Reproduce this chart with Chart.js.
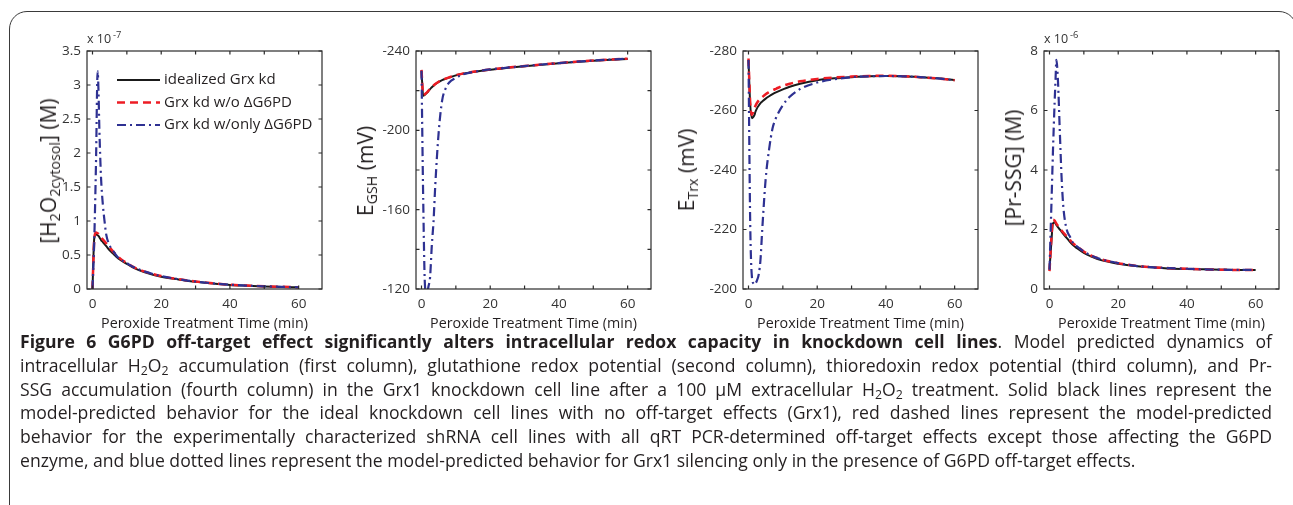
<!DOCTYPE html>
<html>
<head>
<meta charset="utf-8">
<script src="https://cdn.jsdelivr.net/npm/chart.js@4.4.1/dist/chart.umd.min.js"></script>
<style>
  body { margin: 0; width: 1293px; height: 505px; overflow: hidden; background: #fff; position: relative; font-family: 'Open Sans', sans-serif; color: #231f20; }
  .frame { position: absolute; left: 9px; top: 11px; width: 1288px; height: 600px; border: 1.5px solid #3a3a3a; border-radius: 18px; box-sizing: border-box; }
  canvas { position: absolute; }
  .ytitle { position: absolute; transform: translate(-50%, -50%) rotate(-90deg); white-space: nowrap; font-size: 21px; }
  .ytitle sub { font-size: 0.68em; vertical-align: -0.3em; line-height: 0; }
  .mult { position: absolute; font-size: 12.5px; color: #333; }
  .mult sup { font-size: 0.75em; vertical-align: 0.55em; line-height: 0; margin-left: 2px; }
  .caption { position: absolute; left: 20px; top: 330px; width: 1252px; font-size: 17.6px; line-height: 23.8px; }
  .caption div { text-align: justify; text-align-last: justify; }
  .caption div.last { text-align-last: left; }
  .caption sub { font-size: 0.7em; vertical-align: -0.25em; line-height: 0; }
</style>
</head>
<body>
<div class="frame"></div>

<canvas id="c1"></canvas>
<canvas id="c2"></canvas>
<canvas id="c3"></canvas>
<canvas id="c4"></canvas>

<div class="mult" style="left:87px;top:30px">x 10<sup>-7</sup></div>
<div class="mult" style="left:1044px;top:30px">x 10<sup>-6</sup></div>

<div class="ytitle" style="left:48px;top:171px">[H<sub>2</sub>O<sub>2cytosol</sub>] (M)</div>
<div class="ytitle" style="left:365px;top:171px">E<sub>GSH</sub> (mV)</div>
<div class="ytitle" style="left:686px;top:170px">E<sub>Trx</sub> (mV)</div>
<div class="ytitle" style="left:1013px;top:168px">[Pr-SSG] (M)</div>

<div class="caption">
  <div><b>Figure 6 G6PD off-target effect significantly alters intracellular redox capacity in knockdown cell lines</b>. Model predicted dynamics of</div>
  <div>intracellular H<sub>2</sub>O<sub>2</sub> accumulation (first column), glutathione redox potential (second column), thioredoxin redox potential (third column), and Pr-</div>
  <div>SSG accumulation (fourth column) in the Grx1 knockdown cell line after a 100 µM extracellular H<sub>2</sub>O<sub>2</sub> treatment. Solid black lines represent the</div>
  <div>model-predicted behavior for the ideal knockdown cell lines with no off-target effects (Grx1), red dashed lines represent the model-predicted</div>
  <div>behavior for the experimentally characterized shRNA cell lines with all qRT PCR-determined off-target effects except those affecting the G6PD</div>
  <div class="last">enzyme, and blue dotted lines represent the model-predicted behavior for Grx1 silencing only in the presence of G6PD off-target effects.</div>
</div>

<script>
// time points (min)
const time = [0, 0.5, 1, 1.5, 1.75, 2, 2.5, 3, 3.5, 4, 5, 6, 7, 8, 10, 12, 15, 20, 25, 30, 35, 40, 45, 50, 55, 60];
const seriesLabels = ['idealized Grx kd', 'Grx kd w/o \u0394G6PD', 'Grx kd w/only \u0394G6PD'];

// [H2O2 cytosol], x 1e-7 M
const h2o2Ideal = [0, 0.74, 0.81, 0.79, 0.78, 0.76, 0.72, 0.69, 0.66, 0.63, 0.57, 0.52, 0.47, 0.43, 0.37, 0.31, 0.25, 0.18, 0.14, 0.105, 0.08, 0.06, 0.048, 0.038, 0.03, 0.025];
const h2o2NoG6pd = [0, 0.72, 0.83, 0.82, 0.81, 0.79, 0.76, 0.73, 0.7, 0.67, 0.61, 0.55, 0.5, 0.45, 0.38, 0.32, 0.26, 0.19, 0.145, 0.11, 0.083, 0.063, 0.05, 0.04, 0.032, 0.026];
const h2o2OnlyG6pd = [0, 0.7, 1.8, 3.2, 2.9, 2.35, 1.62, 1.25, 1.0, 0.8, 0.64, 0.56, 0.49, 0.44, 0.38, 0.32, 0.26, 0.19, 0.145, 0.11, 0.083, 0.063, 0.05, 0.04, 0.032, 0.026];

// E_GSH (mV)
const egshIdeal = [-230, -217.5, -218, -218.8, -219.2, -219.8, -220.8, -221.7, -222.5, -223.2, -224.4, -225.3, -226, -226.6, -227.7, -228.5, -229.4, -230.6, -231.5, -232.3, -233.1, -233.8, -234.5, -235.1, -235.6, -236];
const egshNoG6pd = [-230.5, -217.8, -218.2, -219, -219.4, -220, -221, -221.8, -222.6, -223.3, -224.5, -225.4, -226.1, -226.7, -227.8, -228.6, -229.5, -230.7, -231.6, -232.4, -233.2, -233.9, -234.6, -235.2, -235.7, -236.1];
const egshOnlyG6pd = [-230, -165, -122, -117, -118, -121, -126, -142, -154, -172, -199, -215, -221, -224, -226.5, -228.2, -229.4, -230.7, -231.6, -232.4, -233.2, -233.9, -234.6, -235.2, -235.7, -236.1];

// E_Trx (mV)
const etrxIdeal = [-277, -262, -257.4, -258, -258.5, -259.5, -260.8, -261.7, -262.5, -263, -264, -264.8, -265.5, -266.1, -267.1, -268, -269, -270.2, -270.8, -271.2, -271.5, -271.6, -271.5, -271.2, -270.8, -270.2];
const etrxNoG6pd = [-277.5, -262.5, -258.5, -260, -260.8, -261.5, -262.6, -263.4, -264, -264.5, -265.5, -266.2, -266.8, -267.3, -268.3, -269, -269.8, -270.6, -271.1, -271.4, -271.6, -271.7, -271.5, -271.2, -270.8, -270.2];
const etrxOnlyG6pd = [-277, -222, -204, -201.8, -201.5, -201.8, -203, -205, -210, -220, -237, -247, -254, -257.5, -261.8, -264.6, -267.2, -269.4, -270.5, -271.2, -271.5, -271.6, -271.5, -271.2, -270.8, -270.2];

// [Pr-SSG], x 1e-6 M
const prssgIdeal = [0.65, 1.5, 2.2, 2.24, 2.2, 2.15, 2.07, 2.0, 1.93, 1.85, 1.72, 1.58, 1.46, 1.37, 1.21, 1.1, 0.97, 0.85, 0.77, 0.73, 0.69, 0.67, 0.66, 0.65, 0.64, 0.64];
const prssgNoG6pd = [0.6, 1.6, 2.33, 2.3, 2.25, 2.2, 2.12, 2.05, 1.97, 1.9, 1.77, 1.64, 1.52, 1.43, 1.26, 1.13, 1.0, 0.87, 0.78, 0.73, 0.7, 0.68, 0.66, 0.65, 0.64, 0.64];
const prssgOnlyG6pd = [0.65, 2.6, 4.6, 6.3, 7.0, 7.7, 6.9, 5.3, 3.8, 2.8, 2.0, 1.75, 1.52, 1.43, 1.26, 1.13, 1.0, 0.87, 0.78, 0.73, 0.7, 0.68, 0.66, 0.65, 0.64, 0.64];

// ticks
const xTicks = [0, 10, 20, 30, 40, 50, 60];
const xTickLabels = [0, 20, 40, 60];
const h2o2Ticks = [0, 0.5, 1, 1.5, 2, 2.5, 3, 3.5];
const h2o2TickLabels = [0, 0.5, 1, 1.5, 2, 2.5, 3, 3.5];
const egshTicks = [-240, -220, -200, -180, -160, -140, -120];
const egshTickLabels = [-240, -200, -160, -120];
const etrxTicks = [-280, -260, -240, -220, -200];
const etrxTickLabels = [-280, -260, -240, -220, -200];
const prssgTicks = [0, 2, 4, 6, 8];
const prssgTickLabels = [0, 2, 4, 6, 8];

const lineStyles = [
  { borderColor: '#1a1a1a', borderWidth: 2, borderDash: [], order: 2 },
  { borderColor: '#ed1c24', borderWidth: 2.5, borderDash: [8, 5], order: 1 },
  { borderColor: '#2e3192', borderWidth: 2.2, borderDash: [9, 4, 2, 4], order: 0 }
];

// box round the axes with inward ticks, like the original
const frameTicks = {
  id: 'frameTicks',
  afterDatasetsDraw(chart) {
    const { ctx, chartArea: a, scales: { x, y } } = chart;
    const len = 3.5;
    ctx.save();
    ctx.strokeStyle = '#2b2b2b';
    ctx.lineWidth = 1.2;
    ctx.strokeRect(a.left, a.top, a.right - a.left, a.bottom - a.top);
    ctx.beginPath();
    x.ticks.forEach(t => {
      const p = x.getPixelForValue(t.value);
      ctx.moveTo(p, a.bottom); ctx.lineTo(p, a.bottom - len);
      ctx.moveTo(p, a.top); ctx.lineTo(p, a.top + len);
    });
    y.ticks.forEach(t => {
      const p = y.getPixelForValue(t.value);
      ctx.moveTo(a.left, p); ctx.lineTo(a.left + len, p);
      ctx.moveTo(a.right, p); ctx.lineTo(a.right - len, p);
    });
    ctx.stroke();
    ctx.restore();
  }
};

const lineLegend = {
  id: 'lineLegend',
  afterDatasetsDraw(chart, args, opts) {
    if (!opts.show) return;
    const { ctx, chartArea: a } = chart;
    ctx.save();
    ctx.font = '15px "Open Sans"';
    ctx.textBaseline = 'middle';
    ctx.fillStyle = '#231f20';
    chart.data.datasets.forEach((ds, i) => {
      const yy = a.top + 29 + i * 22.5;
      ctx.strokeStyle = ds.borderColor;
      ctx.lineWidth = ds.borderWidth;
      ctx.setLineDash(ds.borderDash);
      ctx.beginPath();
      ctx.moveTo(a.left + 30, yy);
      ctx.lineTo(a.left + 73, yy);
      ctx.stroke();
      ctx.setLineDash([]);
      ctx.fillText(ds.label, a.left + 77, yy);
    });
    ctx.restore();
  }
};

const PAD_LEFT = 60, PAD_TOP = 25, PAD_RIGHT = 12, X_H = 48;
const BOX_W = 235, BOX_H = 238;

function makePanel(id, boxLeft, series, yMin, yMax, reverse, yTicks, yLabels, showLegend) {
  const canvas = document.getElementById(id);
  const w = PAD_LEFT + BOX_W + PAD_RIGHT;
  const h = PAD_TOP + BOX_H + X_H;
  canvas.width = w;
  canvas.height = h;
  canvas.style.left = (boxLeft - PAD_LEFT) + 'px';
  canvas.style.top = (51 - PAD_TOP) + 'px';
  canvas.style.width = w + 'px';
  canvas.style.height = h + 'px';

  new Chart(canvas, {
    type: 'scatter',
    data: {
      datasets: series.map((vals, i) => ({
        label: seriesLabels[i],
        data: time.map((t, k) => ({ x: t, y: vals[k] })),
        showLine: true,
        pointRadius: 0,
        fill: false,
        cubicInterpolationMode: 'monotone',
        ...lineStyles[i]
      }))
    },
    options: {
      responsive: false,
      animation: false,
      layout: { padding: { left: 0, top: PAD_TOP, right: PAD_RIGHT, bottom: 0 } },
      plugins: {
        legend: { display: false },
        tooltip: { enabled: false },
        lineLegend: { show: showLegend }
      },
      scales: {
        x: {
          type: 'linear', min: -1.6, max: 66.8,
          grid: { display: false, drawTicks: false }, border: { display: false },
          afterBuildTicks: s => { s.ticks = xTicks.map(v => ({ value: v })); },
          afterFit: s => { s.height = X_H; },
          ticks: {
            autoSkip: false, maxRotation: 0, padding: 7, color: '#333',
            font: { family: 'Open Sans', size: 13.5 },
            callback: v => xTickLabels.includes(v) ? String(v) : ''
          },
          title: {
            display: true, text: 'Peroxide Treatment Time (min)', color: '#231f20',
            font: { family: 'Open Sans', size: 14.3 }, padding: { top: 0, bottom: 4 }
          }
        },
        y: {
          type: 'linear', min: yMin, max: yMax, reverse: reverse,
          grid: { display: false, drawTicks: false }, border: { display: false },
          afterBuildTicks: s => { s.ticks = yTicks.map(v => ({ value: v })); },
          afterFit: s => { s.width = PAD_LEFT; },
          ticks: {
            autoSkip: false, padding: 6, color: '#333',
            font: { family: 'Open Sans', size: 13.5 },
            callback: v => yLabels.includes(v) ? String(v) : ''
          }
        }
      }
    },
    plugins: [frameTicks, lineLegend]
  });
}

makePanel('c1', 87, [h2o2Ideal, h2o2NoG6pd, h2o2OnlyG6pd], 0, 3.5, false, h2o2Ticks, h2o2TickLabels, true);
makePanel('c2', 416, [egshIdeal, egshNoG6pd, egshOnlyG6pd], -240, -120, true, egshTicks, egshTickLabels, false);
makePanel('c3', 743, [etrxIdeal, etrxNoG6pd, etrxOnlyG6pd], -280, -200, true, etrxTicks, etrxTickLabels, false);
makePanel('c4', 1044, [prssgIdeal, prssgNoG6pd, prssgOnlyG6pd], 0, 8, false, prssgTicks, prssgTickLabels, false);
</script>
</body>
</html>
